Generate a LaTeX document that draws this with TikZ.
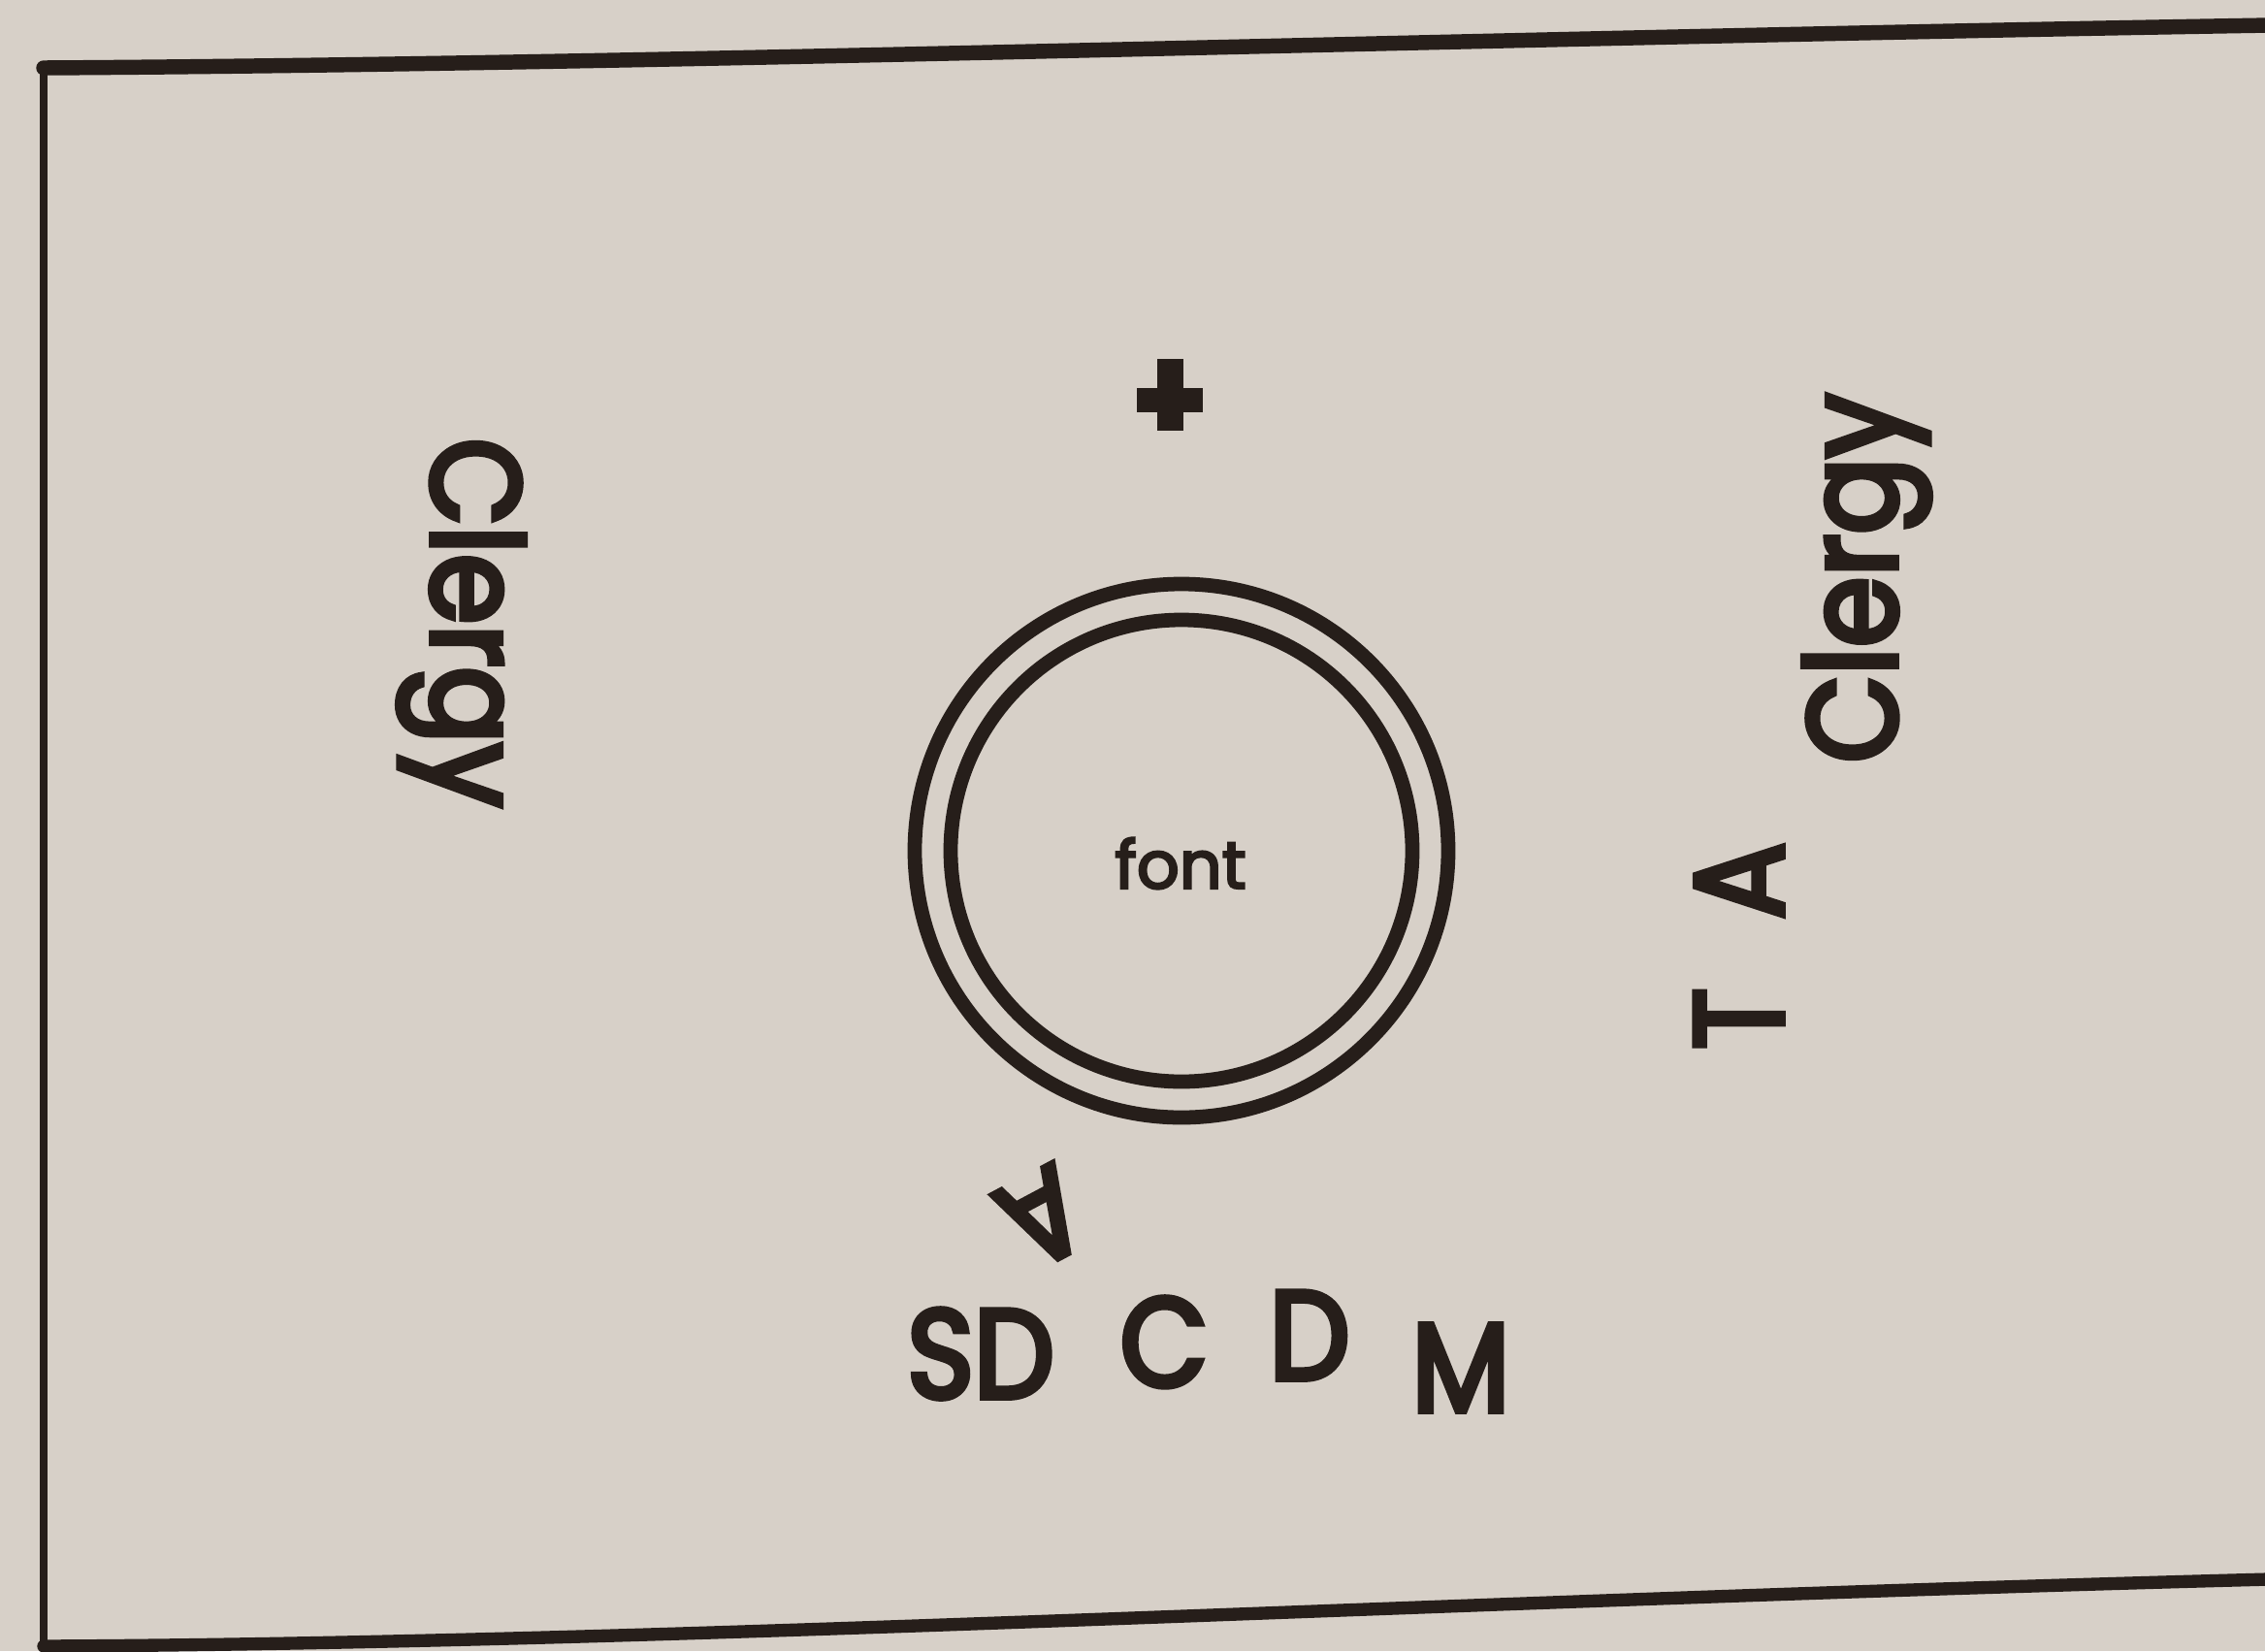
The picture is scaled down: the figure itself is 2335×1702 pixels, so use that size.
\documentclass[tikz,border=0pt]{standalone}
\usepackage{fontspec}
\setmainfont{Poppins}
\newfontfamily\bigfont{Poppins}[FakeStretch=0.9,FakeBold=4.5]
\newfontfamily\smallfont{Poppins}[FakeBold=3.5]
\definecolor{paper}{RGB}{215,208,200}
\definecolor{ink}{RGB}{38,30,26}
\begin{document}
\begin{tikzpicture}[x=0.01cm,y=-0.01cm,
  big/.style={inner sep=0pt,outer sep=0pt,text=ink,font=\bigfont\fontsize{37}{40}\selectfont},
  small/.style={inner sep=0pt,outer sep=0pt,text=ink,font=\smallfont\fontsize{19.5}{22}\selectfont},
  ring/.style={draw=ink,line width=4.2pt},
  frameline/.style={draw=ink,line cap=round}]
\useasboundingbox (0,0) rectangle (2335,1702);
\fill[paper] (0,0) rectangle (2335,1702);
% frame
\coordinate (tl) at (45,70);
\coordinate (tr) at (2340,26);
\coordinate (bl) at (45,1697);
\coordinate (br) at (2340,1628);
\draw[frameline,line width=4.4pt] (tl) .. controls (700,66) and (1500,40) .. (tr);
\draw[frameline,line width=2.5pt] (tl) -- (bl);
\draw[frameline,line width=3.8pt] (bl) .. controls (700,1694) and (1500,1650) .. (br);
% cross
\fill[ink] (1193,370) rectangle (1220,444);
\fill[ink] (1172,400) rectangle (1240,425);
% font rings
\coordinate (fc) at (1218,877);
\draw[ring] (fc) circle (275);
\draw[ring] (fc) circle (238);
\node[small] (font) at (1217,890) {font};
% labels
\node[big,rotate=-90,anchor=base] (clergyL) at (445,642) {Clergy};
\node[big,rotate=90,anchor=base] (clergyR) at (1955,596) {Clergy};
\node[big,rotate=90,anchor=base] (tT) at (1838,1050) {T};
\node[big,rotate=90,anchor=base] (tA) at (1838,908) {A};
\node[big,rotate=208] (rotA) at (1075,1255) {A};
\node[big,anchor=base] (sd) at (1011,1441) {SD};
\node[big,anchor=base] (cc) at (1200,1429) {C};
\node[big,anchor=base] (dd) at (1350,1422) {D};
\node[big,anchor=base] (mm) at (1506,1455) {M};
\end{tikzpicture}
\end{document}
